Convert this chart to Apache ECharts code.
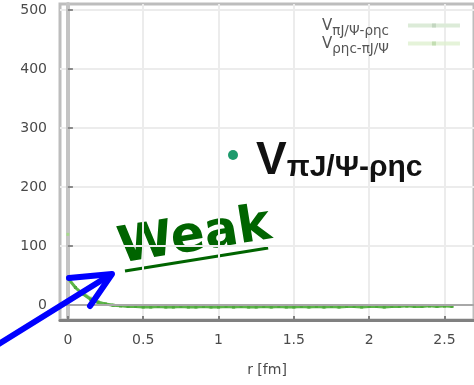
<!DOCTYPE html>
<html>
<head>
<meta charset="utf-8">
<script src="https://cdn.jsdelivr.net/npm/echarts@6/dist/echarts.min.js"></script>
<style>
  html, body { margin: 0; padding: 0; background: #ffffff; }
  #chart { width: 474px; height: 385px; }
</style>
</head>
<body>
<div id="chart"></div>
<script>
// Inter-channel potential V(r) between the πJ/Ψ and ρηc channels
const rValues = [0, 0.05, 0.1, 0.15, 0.2, 0.25, 0.3, 0.35, 0.4, 0.45, 0.5, 0.55, 0.6, 0.65, 0.7, 0.75, 0.8, 0.85, 0.9, 0.95,
  1, 1.05, 1.1, 1.15, 1.2, 1.25, 1.3, 1.35, 1.4, 1.45, 1.5, 1.55, 1.6, 1.65, 1.7, 1.75, 1.8, 1.85, 1.9, 1.95,
  2, 2.05, 2.1, 2.15, 2.2, 2.25, 2.3, 2.35, 2.4, 2.45, 2.5, 2.55];

const vPiJpsiToRhoEtac = [46, 30, 19, 10, 5, 2, 0, -1, -2, -2, -3, -3, -2, -3, -3, -2, -3, -3, -2, -3,
  -3, -2, -3, -2, -3, -3, -2, -3, -2, -3, -3, -2, -3, -2, -3, -2, -3, -2, -2, -3,
  -2, -2, -3, -2, -2, -1, -2, -2, -1, -2, -1, -2];

const vRhoEtacToPiJpsi = [120, null, 22, 12, 6, 2, 0, -1, -1, -2, -2, -1, -2, -2, -1, -2, -2, -1, -2, -2,
  -1, -2, -2, -1, -2, -2, -1, -2, -2, -1, -2, -2, -1, -2, -2, -1, -2, -2, -1, -2,
  -1, -2, -1, -2, -1, -2, -1, -2, -1, -1, -2, -1];

const xTicks = [0, 0.5, 1, 1.5, 2, 2.5];
const yTicks = [0, 100, 200, 300, 400, 500];

const seriesNames = ['piJpsi_rhoEtac', 'rhoEtac_piJpsi'];
const legendText = {
  piJpsi_rhoEtac: '{v|V}{s|πJ/Ψ-ρηc}{p| }',
  rhoEtac_piJpsi: '{v|V}{s|ρηc-πJ/Ψ}{p| }'
};

const pairs = (ys) => rValues.map((r, i) => [r, ys[i]]);

const chart = echarts.init(document.getElementById('chart'), null, { renderer: 'canvas' });

const labelFont = { fontFamily: 'DejaVu Sans', fontSize: 14, color: '#4a4a4a' };

chart.setOption({
  animation: false,
  backgroundColor: '#ffffff',
  grid: {
    left: 60, right: -6, top: 4, bottom: 65,
    show: true, borderColor: '#bdbdbd', borderWidth: 3, backgroundColor: 'transparent'
  },
  legend: {
    orient: 'vertical',
    left: 317, top: 8,
    align: 'right',
    itemWidth: 52, itemHeight: 5, itemGap: -7,
    data: [
      { name: seriesNames[0], itemStyle: { color: '#c3d6c0' }, lineStyle: { color: '#dcebd8', width: 4 } },
      { name: seriesNames[1], itemStyle: { color: '#c3deb2' }, lineStyle: { color: '#dff0d0', width: 4 } }
    ],
    formatter: (name) => legendText[name],
    textStyle: {
      color: '#555',
      rich: {
        v: { fontFamily: 'DejaVu Sans', fontSize: 15, lineHeight: 14, color: '#555', verticalAlign: 'top' },
        s: { fontFamily: 'DejaVu Sans', fontSize: 13.5, lineHeight: 14, color: '#555', padding: [11, 0, 0, 0] },
        p: { fontSize: 12, width: 14 }
      }
    }
  },
  xAxis: {
    type: 'value',
    min: -0.0524, max: 2.696,
    name: 'r [fm]',
    nameLocation: 'middle',
    nameGap: 43,
    nameTextStyle: { fontFamily: 'DejaVu Sans', fontSize: 14, color: '#4a4a4a' },
    axisLine: { onZero: false, lineStyle: { color: '#808080', width: 3 } },
    axisTick: { customValues: xTicks, inside: true, length: 4, lineStyle: { color: '#808080', width: 2 } },
    axisLabel: { customValues: xTicks, margin: 13, ...labelFont },
    splitLine: { show: true, lineStyle: { color: '#ececec', width: 2 } }
  },
  yAxis: {
    type: 'value',
    min: -25, max: 510,
    axisLine: { show: true, lineStyle: { color: '#c4c4c4', width: 4 } },
    axisTick: { customValues: yTicks, inside: true, length: 5, lineStyle: { color: '#8a8a8a', width: 2 } },
    axisLabel: { customValues: yTicks, margin: 13, ...labelFont },
    splitLine: { show: true, lineStyle: { color: '#ececec', width: 2 } }
  },
  series: [
    {
      name: seriesNames[0],
      type: 'line',
      data: pairs(vPiJpsiToRhoEtac),
      symbol: 'rect', symbolSize: 3, showSymbol: true,
      clip: false,
      itemStyle: { color: '#4ea83c' },
      lineStyle: { color: '#5cb548', width: 3 },
      markLine: {
        silent: true, symbol: 'none', label: { show: false },
        lineStyle: { color: '#a8a8a8', width: 2, type: 'solid' },
        data: [{ yAxis: 0 }]
      },
      z: 3
    },
    {
      name: seriesNames[1],
      type: 'line',
      data: pairs(vRhoEtacToPiJpsi),
      symbol: 'rect', symbolSize: 3, showSymbol: true,
      connectNulls: false,
      clip: false,
      itemStyle: { color: '#a6d98c' },
      lineStyle: { color: '#9fd585', width: 2, opacity: 0.8 },
      z: 2
    }
  ],
  graphic: [
    // channel label with its marker
    {
      type: 'circle', shape: { cx: 233, cy: 155, r: 5 },
      style: { fill: '#1d9a6c' }, z: 10
    },
    {
      type: 'text', x: 256, y: 138, z: 10,
      style: {
        text: '{v|V}{s|πJ/Ψ-ρηc}',
        rich: {
          v: { fontFamily: 'Liberation Sans', fontWeight: 'bold', fontSize: 46, fill: '#111' },
          s: { fontFamily: 'Liberation Sans', fontWeight: 'bold', fontSize: 30, fill: '#111', padding: [14, 0, 0, 0] }
        }
      }
    },
    // "Weak" remark with underline
    {
      type: 'group', x: 125, y: 271, rotation: 0.16, z: 10,
      children: [
        {
          type: 'text', x: -3, y: 3,
          style: {
            text: 'Weak', fill: '#006400',
            font: 'bold 50px "DejaVu Sans"',
            textAlign: 'left', textVerticalAlign: 'bottom'
          }
        },
        {
          type: 'line', shape: { x1: 0, y1: 0, x2: 145, y2: 0 },
          style: { stroke: '#006400', lineWidth: 3 }
        }
      ]
    },
    // blue pointer arrow
    {
      type: 'polyline', z: 11,
      shape: { points: [[-6, 347], [110, 275]] },
      style: { stroke: '#0000ff', lineWidth: 6, lineCap: 'round' }
    },
    {
      type: 'polyline', z: 11,
      shape: { points: [[69, 278], [112, 274], [90, 306]] },
      style: { stroke: '#0000ff', lineWidth: 6, lineCap: 'round', lineJoin: 'round', fill: null }
    }
  ]
});
</script>
</body>
</html>
